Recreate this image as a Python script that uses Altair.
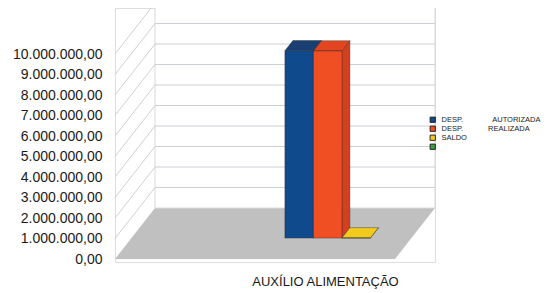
import altair as alt
import pandas as pd

# ---------------- data ----------------
CATEGORY = "AUXÍLIO ALIMENTAÇÃO"
SERIES = ["DESP. AUTORIZADA", "DESP. REALIZADA", "SALDO", ""]
VALUES = [9_140_000, 9_130_000, 10_000]          # green (4th) series has no bar
Y_TICKS = [0, 1_000_000, 2_000_000, 3_000_000, 4_000_000, 5_000_000,
           6_000_000, 7_000_000, 8_000_000, 9_000_000, 10_000_000]

# ---------------- styles / layout ----------------
FRONT = ["#0f4a8c", "#f04e23", "#f5c81c", "#3f9b3f"]
TOP = ["#1a3f72", "#e2451f", "#f3cb1e"]
SIDE = ["#0c3a6e", "#d63f1e", "#c9a316"]

W, H = 320, 254
PX_PER_UNIT = 20.5 / 1_000_000
Y_MIN = -3 / PX_PER_UNIT
Y_MAX = 251 / PX_PER_UNIT
DX = 40                       # depth offset (x units)
DYV = 51 / PX_PER_UNIT        # depth offset (value units)
FLOOR_W = 280
WALL_TOP = Y_TICKS[-1]
GX, BW = 153.5, 28.5          # bar group start (front plane) and bar width
T0, T1 = 0.41, 0.61           # bar depth span

xs = alt.Scale(domain=[0, W], nice=False, zero=False)
ys = alt.Scale(domain=[Y_MIN, Y_MAX], nice=False, zero=False)

pad_a = "\u00a0" * 14
pad_r = "\u00a0" * 12
label_expr = (f"datum.label == 'DESP. AUTORIZADA' ? 'DESP.{pad_a}AUTORIZADA' : "
              f"datum.label == 'DESP. REALIZADA' ? 'DESP.{pad_r}REALIZADA' : datum.label")

X_AX = alt.Axis(title=CATEGORY, labels=False, ticks=False, domain=False, grid=False,
                titleX=210, titleY=13, titleFont="Liberation Sans",
                titleFontSize=13, titleFontWeight="normal", titleColor="#1a1a1a")
Y_AX = alt.Axis(title=None, values=Y_TICKS, format=",.2f", domain=False, ticks=False,
                grid=False, labelPadding=13, labelFont="Liberation Sans",
                labelFontSize=14, labelColor="#1a1a1a", labelOverlap=False,
                labelBound=False, labelFlush=False)


def X(field):
    return alt.X(field, scale=xs, axis=X_AX)


def Y(field):
    return alt.Y(field, scale=ys, axis=Y_AX)


# floor (horizontal area)
floor = pd.DataFrame({"face": ["floor", "floor"], "y": [0, DYV],
                      "x": [0, DX], "x2": [FLOOR_W, FLOOR_W + DX]})
floor_layer = alt.Chart(floor).mark_area(orient="horizontal", color="#c0c0c0").encode(
    y=Y("y:Q"), x=X("x:Q"), x2="x2:Q", detail="face:N")

# back wall
wall = pd.DataFrame({"x": [DX], "x2": [W], "y": [DYV], "y2": [WALL_TOP + DYV]})
wall_layer = alt.Chart(wall).mark_rect(fill="white", stroke="#d8d8d8", strokeWidth=1).encode(
    x=X("x:Q"), x2="x2:Q", y=Y("y:Q"), y2="y2:Q")

grid = pd.DataFrame({"k": Y_TICKS[1:]})
grid["y"] = grid["k"] + DYV
grid["x"] = DX
grid["x2"] = W
grid_layer = alt.Chart(grid).mark_rule(color="#cbd0d5", strokeWidth=1).encode(
    x=X("x:Q"), x2="x2:Q", y=Y("y:Q"))

diag = pd.DataFrame({"y": Y_TICKS[1:]})
diag["y2"] = diag["y"] + DYV
diag["x"] = 0
diag["x2"] = DX
diag_layer = alt.Chart(diag).mark_rule(color="#d0d0d0", strokeWidth=1).encode(
    x=X("x:Q"), x2="x2:Q", y=Y("y:Q"), y2="y2:Q")

# bars
fronts, tops, sides = [], [], []
for i, v in enumerate(VALUES):
    xf0 = GX + i * BW
    xf1 = xf0 + BW
    dx0, dx1 = DX * T0, DX * T1
    dy0, dy1 = DYV * T0, DYV * T1
    fronts.append({"series": SERIES[i], "x": xf0 + dx0, "x2": xf1 + dx0,
                   "y": dy0, "y2": v + dy0})
    tops += [{"face": f"t{i}", "fill": TOP[i], "y": v + dy0, "x": xf0 + dx0, "x2": xf1 + dx0},
             {"face": f"t{i}", "fill": TOP[i], "y": v + dy1, "x": xf0 + dx1, "x2": xf1 + dx1}]
    sides += [{"face": f"s{i}", "fill": SIDE[i], "x": xf1 + dx0, "y": dy0, "y2": v + dy0},
              {"face": f"s{i}", "fill": SIDE[i], "x": xf1 + dx1, "y": dy1, "y2": v + dy1}]

side_layer = alt.Chart(pd.DataFrame(sides)).mark_area(
    stroke="#2a2a2a", strokeWidth=0.5, strokeOpacity=0.8).encode(
    x=X("x:Q"), y=Y("y:Q"), y2="y2:Q",
    detail="face:N", fill=alt.Fill("fill:N", scale=None))

top_layer = alt.Chart(pd.DataFrame(tops)).mark_area(
    orient="horizontal", stroke="#2a2a2a", strokeWidth=0.5, strokeOpacity=0.8).encode(
    y=Y("y:Q"), x=X("x:Q"), x2="x2:Q",
    detail="face:N", fill=alt.Fill("fill:N", scale=None))

front_layer = alt.Chart(pd.DataFrame(fronts)).mark_rect(
    stroke="#2a2a2a", strokeWidth=0.5, strokeOpacity=0.8).encode(
    x=X("x:Q"), x2="x2:Q", y=Y("y:Q"), y2="y2:Q",
    color=alt.Color("series:N", scale=alt.Scale(domain=SERIES, range=FRONT),
                    legend=alt.Legend(title=None, orient="none", legendX=314, legendY=108,
                                      symbolType="square", symbolSize=28,
                                      symbolStrokeColor="#1a1a1a", symbolStrokeWidth=0.9,
                                      labelFont="Liberation Sans", labelFontSize=7.5,
                                      labelColor="#222222", rowPadding=-1.4, labelOffset=5,
                                      labelLimit=400, padding=0, labelExpr=label_expr)),
)

chart = alt.layer(floor_layer, wall_layer, grid_layer, diag_layer,
                  side_layer, top_layer, front_layer).properties(
    width=W, height=H,
    padding={"left": 107, "top": 0, "right": 107, "bottom": 27},
    autosize=alt.AutoSizeParams(type="none"),
    background="white",
).configure_view(strokeWidth=0, stroke="transparent").configure(
    locale=alt.Locale(number=alt.NumberLocale(decimal=",", thousands=".", grouping=[3],
                                              currency=["R$", ""])))

chart.save("out.html", embed_options={"renderer": "svg", "actions": False})
